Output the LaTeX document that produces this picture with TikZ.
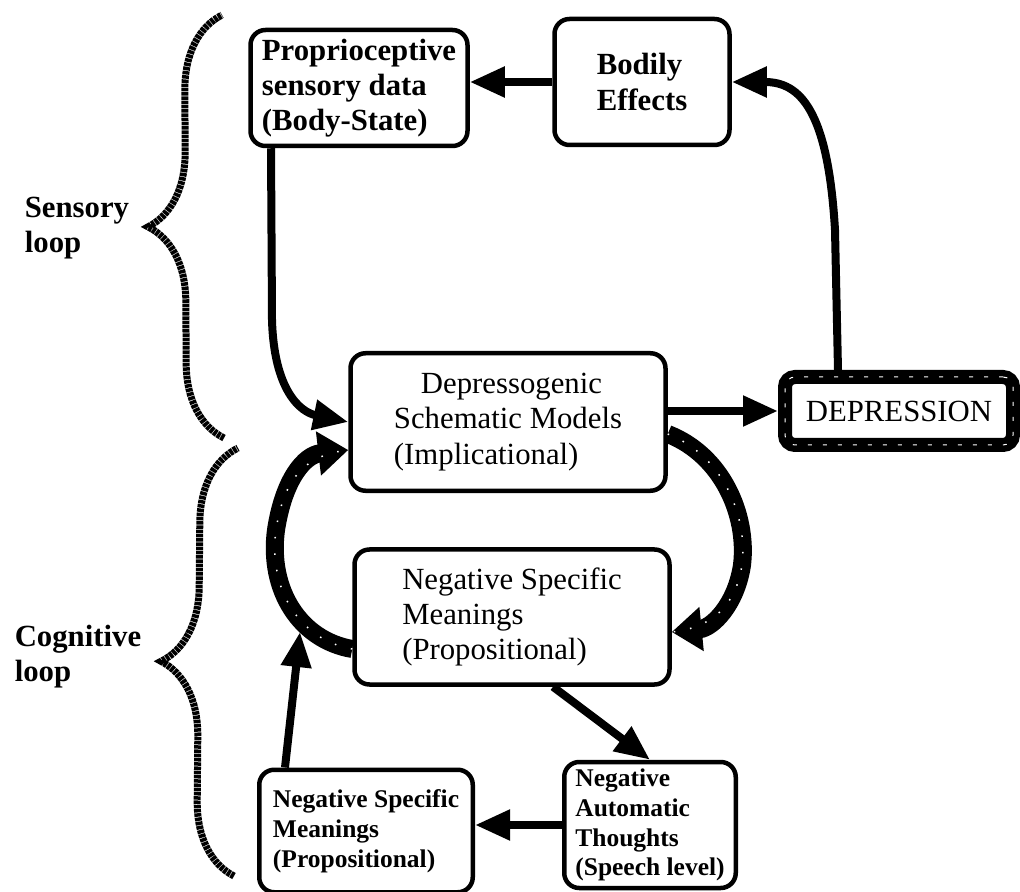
\documentclass[tikz,border=0pt]{standalone}
\usepackage{fontspec}
\setmainfont{Liberation Serif}
\usetikzlibrary{arrows.meta,positioning,calc,decorations.pathreplacing}

\begin{document}
\begin{tikzpicture}[
    x=0.2mm, y=-0.2mm,
    box/.style={draw, line width=0.9mm, rounded corners=3mm, align=left, inner sep=0pt},
    plainbig/.style={font=\fontsize{17.5}{20}\selectfont},
    boldbig/.style={font=\bfseries\fontsize{17.5}{20}\selectfont},
    boldsmall/.style={font=\bfseries\fontsize{14.5}{17}\selectfont},
    flow/.style={line width=1.6mm, -{Triangle[length=7mm, width=5.8mm]}},
    heavy/.style={line width=3.6mm, -{Triangle[length=6mm, width=8.5mm]},
      postaction={draw=white, -, line width=0.3mm, dash pattern=on 0.3mm off 3mm}},
    loopbrace/.style={decorate, decoration={brace, amplitude=15mm}, line width=1.4mm,
      dash pattern=on 0.7mm off 0.15mm},
    side/.style={font=\bfseries\fontsize{17.5}{20}\selectfont, align=left}
  ]

  \useasboundingbox (0,0) rectangle (1020,892);

  % --- Boxes ---
  \node[box, boldbig, minimum width=43.4mm, minimum height=23.2mm] (prop) at (359,88)
    {Proprioceptive\\sensory data\\(Body-State)};
  \node[box, boldbig, minimum width=35mm, minimum height=25.2mm] (bodily) at (642,82)
    {Bodily\\Effects};
  \node[box, plainbig, minimum width=63mm, minimum height=27.5mm] (schema) at (508,422)
    {\hspace*{5.4mm}Depressogenic\\Schematic Models\\(Implicational)};
  \node[plainbig, draw, line width=2.8mm, rounded corners=2mm, inner sep=0pt,
    minimum width=45.6mm, minimum height=13.6mm,
    postaction={draw=white, line width=0.2mm, dash pattern=on 0.8mm off 2.2mm}]
    (depr) at (899,411) {DEPRESSION};
  \node[box, plainbig, minimum width=63mm, minimum height=27mm] (nsm) at (512,617)
    {Negative Specific\\Meanings\\(Propositional)};
  \node[box, boldsmall, minimum width=42.7mm, minimum height=24.5mm] (nsmlow) at (366,831)
    {Negative Specific\\Meanings\\(Propositional)};
  \node[box, boldsmall, minimum width=34.3mm, minimum height=25.2mm] (nat) at (650,825)
    {Negative\\Automatic\\Thoughts\\(Speech level)};

  % --- Loop labels ---
  \draw[loopbrace] (224,438) -- (222,15);
  \draw[loopbrace] (234,876) -- (238,448);
  \node[side] (sensory) at (77,228) {Sensory\\loop};
  \node[side] (cognitive) at (78,657) {Cognitive\\loop};

  % --- Sensory loop ---
  \draw[flow] (bodily.west) -- (bodily.west -| prop.east);
  \draw[flow] ($(depr.north)+(-61,0)$) -- (835,230)
    .. controls (828,110) and (800,82) .. (bodily.east);
  \draw[flow] (schema.east |- depr.west) -- (depr.west);
  \draw[flow] ($(prop.south)+(-88,0)$) -- (272,320)
    .. controls (274,390) and (300,412) .. (schema.west);

  % --- Cognitive loop ---
  \draw[heavy] ($(schema.east)+(0,12)$) .. controls (722,455) and (748,515) .. (742,565)
    .. controls (736,605) and (712,628) .. ($(nsm.east)+(0,15)$);
  \draw[heavy] ($(nsm.west)+(0,32)$) .. controls (300,640) and (268,590) .. (276,530)
    .. controls (284,478) and (305,455) .. ($(schema.west)+(0,28)$);
  \coordinate (join) at (300,632);
  \draw[flow] ($(nsm.south)+(41,0)$) -- (nat.north);
  \draw[flow] (nat.west) -- (nat.west -| nsmlow.east);
  \draw[flow] ($(nsmlow.north)+(-81,0)$) -- (join);

\end{tikzpicture}
\end{document}
